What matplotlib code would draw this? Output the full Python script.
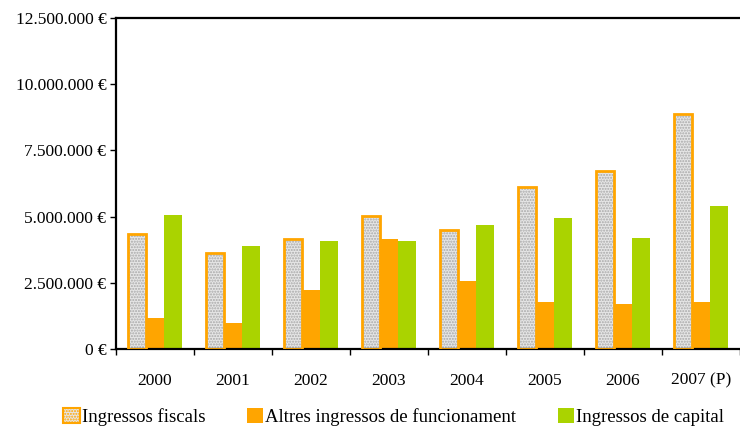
import matplotlib.pyplot as plt
import numpy as np
from matplotlib.patches import Patch

# Data (EUR)
years = ['2000', '2001', '2002', '2003', '2004', '2005', '2006', '2007 (P)']
ingressos_fiscals = [4.34e6, 3.64e6, 4.15e6, 5.04e6, 4.50e6, 6.10e6, 6.72e6, 8.87e6]
altres_ingressos = [1.17e6, 0.97e6, 2.23e6, 4.15e6, 2.57e6, 1.76e6, 1.70e6, 1.78e6]
ingressos_capital = [5.06e6, 3.90e6, 4.08e6, 4.08e6, 4.69e6, 4.96e6, 4.19e6, 5.40e6]

orange = '#ffa500'
green = '#aad300'

plt.rcParams['font.family'] = ['Liberation Serif', 'DejaVu Serif']

fig = plt.figure(figsize=(7.4, 4.28), dpi=100)
ax = fig.add_axes([0.1568, 0.1846, 0.8432, 0.7734])

x = np.arange(len(years))
w = 0.23

# fiscal bars: dotted grey fill + orange outline
ax.bar(x - w, ingressos_fiscals, w, color='#e6e6e6', edgecolor='#a8a8a8',
       hatch='......', linewidth=0, zorder=2)
ax.bar(x - w, ingressos_fiscals, w, fill=False, edgecolor=orange,
       linewidth=2, zorder=3)
ax.bar(x, altres_ingressos, w, color=orange, zorder=2)
ax.bar(x + w, ingressos_capital, w, color=green, zorder=2)

ax.set_xlim(-0.5, len(years) - 0.5)
ax.set_ylim(0, 12.5e6)

yt = np.arange(0, 12.5e6 + 1, 2.5e6)
ax.set_yticks(yt)
ax.set_yticklabels(['{:,.0f} €'.format(v).replace(',', '.') for v in yt])
ax.tick_params(axis='y', direction='out', length=4, width=1, pad=3, labelsize=12.5)

ax.set_xticks(x)
ax.set_xticklabels(years)
ax.tick_params(axis='x', which='major', length=0, pad=17, labelsize=12.5)
ax.set_xticks(np.arange(-0.5, len(years)), minor=True)
ax.tick_params(axis='x', which='minor', direction='out', length=4, width=1)

for s in ['left', 'bottom', 'top']:
    ax.spines[s].set_linewidth(1.6)
ax.spines['right'].set_visible(False)

handles = [
    Patch(facecolor='#e6e6e6', edgecolor=orange, hatch='......', linewidth=1.5),
    Patch(facecolor=orange),
    Patch(facecolor=green),
]
labels = ['Ingressos fiscals', 'Altres ingressos de funcionament', 'Ingressos de capital']
fig.legend(handles, labels, loc='center', bbox_to_anchor=(0.532, 0.026), ncol=3,
           frameon=False, fontsize=13.5, handlelength=0.9, handleheight=0.9,
           handletextpad=0.1, columnspacing=2.2, borderpad=0)

fig.savefig('out.png', dpi=100)
